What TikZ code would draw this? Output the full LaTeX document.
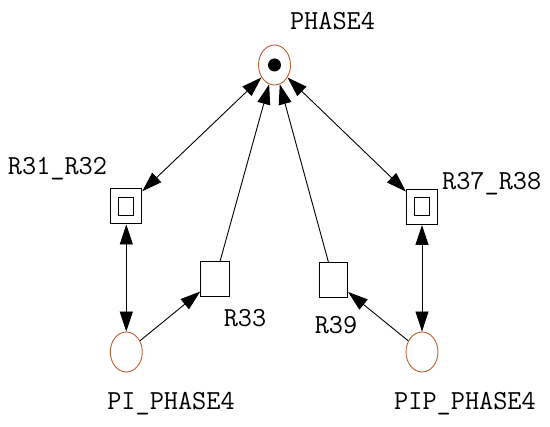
\documentclass[tikz,border=0pt]{standalone}
\usepackage{fontspec}
\usepackage{tikz}
\usetikzlibrary{arrows.meta, positioning, calc, shapes.geometric}
\definecolor{placebrown}{RGB}{185,95,50}
\begin{document}
\begin{tikzpicture}[x=1pt, y=-1pt,
  place/.style={draw=placebrown, ellipse, line width=0.9pt, minimum width=32pt, minimum height=40pt, inner sep=0pt},
  trans/.style={draw, rectangle, line width=1pt, minimum width=28.5pt, minimum height=35pt, inner sep=0pt},
  dtrans/.style={trans, minimum width=31pt, path picture={\draw[line width=1pt] ($(path picture bounding box.center)+(-7.5pt,-9pt)$) rectangle ++(15pt,18pt);}},
  lbl/.style={font=\ttfamily\fontsize{27.5}{27.5}\selectfont, anchor=base, inner sep=0pt},
  arc/.style={-{Triangle[length=20pt, width=13pt]}, line width=0.9pt},
  darc/.style={{Triangle[length=20pt, width=13pt]}-{Triangle[length=20pt, width=13pt]}, line width=0.9pt}]
  \useasboundingbox (0,0) rectangle (550,427);
  \node[place] (p4) at (274.5, 65) {};
  \fill (p4.center) circle (6.5pt);
  \node[dtrans] (r3132) at (126.3, 206.5) {};
  \node[dtrans] (r3738) at (422, 207) {};
  \node[trans] (r33) at (215, 279.5) {};
  \node[trans] (r39) at (333.3, 280) {};
  \node[place] (pi) at (126.3, 352) {};
  \node[place] (pip) at (422, 352) {};
  \node[lbl] (p4l) at (332.5, 29.3) {PHASE4};
  \node[lbl] (r3132l) at (57.5, 174.3) {R31\_R32};
  \node[lbl] (r3738l) at (491.7, 190) {R37\_R38};
  \node[lbl] (r33l) at (245, 326.7) {R33};
  \node[lbl] (r39l) at (336, 334) {R39};
  \node[lbl] (pil) at (171, 410) {PI\_PHASE4};
  \node[lbl] (pipl) at (465, 410) {PIP\_PHASE4};
  \draw[darc] (r3132) -- (p4);
  \draw[darc] (r3738) -- (p4);
  \draw[arc] (r33) -- (p4);
  \draw[arc] (r39) -- (p4);
  \draw[darc] (r3132) -- (pi);
  \draw[darc] (r3738) -- (pip);
  \draw[arc] (pi) -- (r33);
  \draw[arc] (pip) -- (r39);
\end{tikzpicture}
\end{document}
